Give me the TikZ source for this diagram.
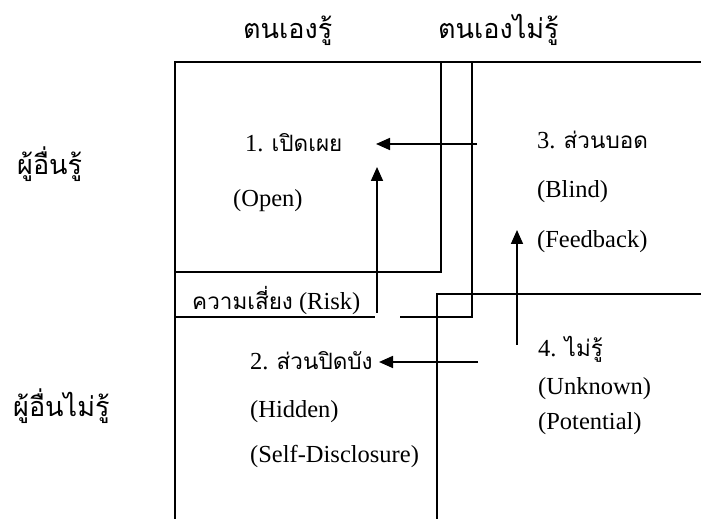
\documentclass[tikz,border=0pt]{standalone}
\usepackage{fontspec}
\setmainfont{Liberation Serif}
\newfontfamily\thaifont[Script=Thai]{Loma}
\usetikzlibrary{arrows.meta}
\tikzset{
  box/.style={line width=1.7pt},
  flow/.style={line width=1.7pt,-{Triangle[length=14pt,width=12pt]}},
  lbl/.style={anchor=base west,inner sep=0pt,font=\fontsize{24.5}{28}\selectfont},
  thl/.style={anchor=base west,inner sep=0pt,font=\fontsize{27}{30}\selectfont\thaifont},
}
\newcommand{\thtxt}[1]{{\fontsize{22.5}{26}\selectfont\thaifont #1}}
\begin{document}
\begin{tikzpicture}[x=1pt,y=1pt]
\useasboundingbox (0,0) rectangle (701,519);
% grid lines (y = 519 - pixel row)
\draw[box] (701,457) -- (175,457) -- (175,0);
\draw[box] (175,247) -- (441,247) -- (441,457);
\draw[box] (400,202) -- (472,202) -- (472,457);
\draw[box] (175,202) -- (375,202);
\draw[box] (437,0) -- (437,225) -- (701,225);
% headers
\node[thl] (hk) at (243,480) {ตนเองรู้};
\node[thl] (hu) at (438,480) {ตนเองไม่รู้};
\node[thl] (ok) at (17,344) {ผู้อื่นรู้};
\node[thl] (ou) at (13,102) {ผู้อื่นไม่รู้};
% quadrant texts
\node[lbl] (q1a) at (245,367) {1. \thtxt{เปิดเผย}};
\node[lbl] (q1b) at (233,312) {(Open)};
\node[lbl] (risk) at (192,209) {\thtxt{ความเสี่ยง} (Risk)};
\node[lbl] (q2a) at (250,149) {2. \thtxt{ส่วนปิดบัง}};
\node[lbl] (q2b) at (250,101) {(Hidden)};
\node[lbl] (q2c) at (250,56) {(Self-Disclosure)};
\node[lbl] (q3a) at (537,370) {3. \thtxt{ส่วนบอด}};
\node[lbl] (q3b) at (537,321) {(Blind)};
\node[lbl] (q3c) at (537,271) {(Feedback)};
\node[lbl] (q4a) at (538,162) {4. \thtxt{ไม่รู้}};
\node[lbl] (q4b) at (538,124) {(Unknown)};
\node[lbl] (q4c) at (538,89) {(Potential)};
% arrow end points
\coordinate (a1s) at (477,375);
\coordinate (a1e) at (376,375);
\coordinate (a2s) at (377,206);
\coordinate (a2e) at (377,352);
\coordinate (a3s) at (478,157);
\coordinate (a3e) at (379,157);
\coordinate (a4s) at (517,174);
\coordinate (a4e) at (517,289);
\draw[flow] (a1s) -- (a1e);
\draw[flow] (a2s) -- (a2e);
\draw[flow] (a3s) -- (a3e);
\draw[flow] (a4s) -- (a4e);
\end{tikzpicture}
\end{document}
